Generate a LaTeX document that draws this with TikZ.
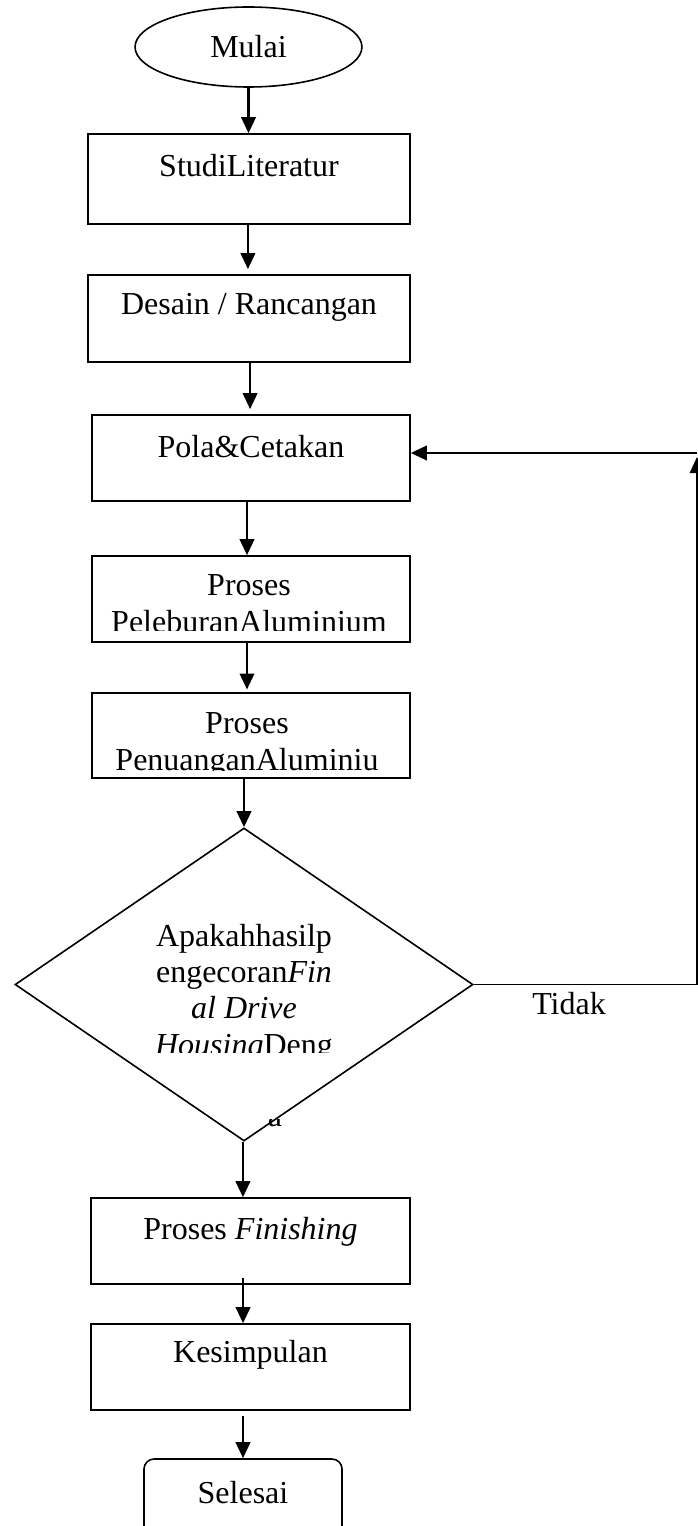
\documentclass[tikz,border=0pt]{standalone}
\usepackage{fontspec}
\setmainfont{Liberation Serif}
\usetikzlibrary{shapes.geometric,arrows.meta}
\begin{document}
\begin{tikzpicture}[x={(0.375pt,0)},y={(0,-0.375pt)},
  shp/.style={draw,line width=0.6pt,inner sep=0pt},
  procbox/.style={shp,rectangle},
  txt/.style={anchor=base,inner sep=0pt,font=\fontsize{12}{13.8}\selectfont},
  arr/.style={draw,line width=0.95pt,-{Triangle[width=5.4pt,length=6pt]}},
  plain/.style={draw,line width=0.65pt}]
\useasboundingbox (0,0) rectangle (698,1526);
\clip (0,0) rectangle (698,1526);

% start
\node[shp,ellipse,minimum width=85.1pt,minimum height=30pt,font=\fontsize{12}{13.8}\selectfont] (mulai) at (248.5,47) {Mulai};

% boxes
\node[procbox,minimum width=120.75pt,minimum height=33.75pt] (s1) at (249,179) {};
\node[txt] (t1) at (249,177) {StudiLiteratur};

\node[procbox,minimum width=120.75pt,minimum height=32.6pt] (s2) at (249,318.5) {};
\node[txt] (t2) at (249,315) {Desain / Rancangan};

\node[procbox,minimum width=119.25pt,minimum height=32.25pt] (s3) at (251,458) {};
\node[txt] (t3) at (251,457) {Pola\&Cetakan};

\node[procbox,minimum width=119.25pt,minimum height=32.25pt] (s4) at (251,599) {};
\begin{scope}
  \clip (92,556) rectangle (410,630);
  \node[txt] (t4a) at (249,595) {Proses};
  \node[txt] (t4b) at (249,632) {PeleburanAluminium};
\end{scope}

\node[procbox,minimum width=119.25pt,minimum height=31.9pt] (s5) at (251,735.5) {};
\begin{scope}
  \clip (92,693) rectangle (410,770);
  \node[txt] (t5a) at (247,733) {Proses};
  \node[txt] (t5b) at (247,770) {PenuanganAluminiu};
\end{scope}

% decision
\node[shp,diamond,minimum width=171.75pt,minimum height=117.4pt] (dec) at (244,984.5) {};
\begin{scope}
  \clip (100,880) rectangle (400,1052);
  \node[txt] (d1) at (244,946) {Apakahhasilp};
  \node[txt] (d2) at (244,982) {engecoran\textit{Fin}};
  \node[txt] (d3) at (244,1018) {\textit{al Drive}};
  \node[txt] (d4) at (244,1055) {\textit{Housing}Deng};
\end{scope}
\begin{scope}
  \clip (262,1119) rectangle (286,1126);
  \node[txt] (d5) at (275,1126) {a};
\end{scope}

\node[procbox,minimum width=119.6pt,minimum height=32.25pt] (s6) at (250.5,1241) {};
\node[txt] (t6) at (250.5,1239) {Proses \textit{Finishing}};

\node[procbox,minimum width=119.6pt,minimum height=32.25pt] (s7) at (250.5,1367) {};
\node[txt] (t7) at (250.5,1362) {Kesimpulan};

\node[procbox,rounded corners=3.75pt,minimum width=74.25pt,minimum height=30pt] (fin) at (243,1499) {};
\node[txt] (t8) at (243,1503) {Selesai};

\node[txt] (tidak) at (569,1014) {Tidak};

% connectors
\draw[arr] (mulai.south) -- (mulai.south |- s1.north);
\draw[arr,shorten >=1.9pt] ([xshift=-0.4pt]s1.south) -- ([xshift=-0.4pt]s2.north);
\draw[arr,shorten >=1.9pt] ([xshift=0.4pt]s2.south) -- ([xshift=0.4pt]s2.south |- s3.north);
\draw[arr] ([xshift=-1.5pt]s3.south) -- ([xshift=-1.5pt]s4.north);
\draw[arr,shorten >=1pt] ([xshift=-1.5pt]s4.south) -- ([xshift=-1.5pt]s5.north);
\draw[arr] (dec.north |- s5.south) -- (dec.north);
\draw[arr] ([xshift=-0.4pt]dec.south) -- ([xshift=-0.4pt]dec.south |- s6.north);
\draw[arr] ([xshift=-2.8pt,yshift=2.6pt]s6.south) -- ([xshift=-2.8pt]s7.north);
\draw[arr] ([yshift=-1.9pt]fin.north |- s7.south) -- (fin.north);

\coordinate (r1) at (697,984.5);
\coordinate (r2) at (697,457);
\coordinate (r3) at (697,453);
\draw[plain,-{Triangle[width=5.4pt,length=6pt]}] (dec.east) -- (r1) -- (r2);
\draw[arr] (r3) -- (s3.east |- r3);
\end{tikzpicture}
\end{document}
